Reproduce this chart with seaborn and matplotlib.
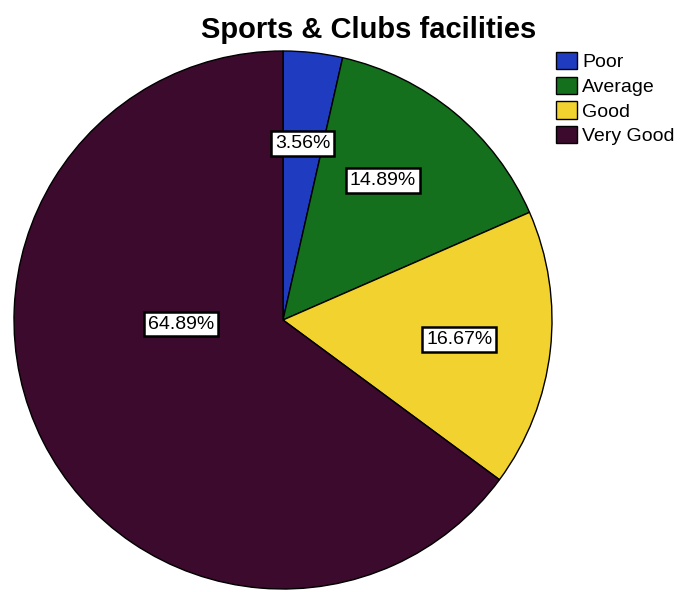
import matplotlib
matplotlib.use("Agg")
import matplotlib.pyplot as plt
import seaborn as sns
from matplotlib.patches import Patch

sns.set_theme(style="white")
plt.rcParams['font.family'] = ['Liberation Sans', 'DejaVu Sans']
plt.rcParams['text.color'] = 'black'

categories = ["Poor", "Average", "Good", "Very Good"]
values = [3.56, 14.89, 16.67, 64.89]
colors = ["#1f3cc0", "#14701c", "#f2d22e", "#3c0a2c"]

pct_labels = iter([f"{v:.2f}%" for v in values])

fig = plt.figure(figsize=(6.86, 5.92), dpi=100)
ax = fig.add_axes([14/686, 3/592, 538/686, 538/592])

wedges, texts, autotexts = ax.pie(
    values, colors=colors, startangle=90, counterclock=False,
    autopct=lambda p: next(pct_labels), pctdistance=0.66,
    wedgeprops=dict(edgecolor="black", linewidth=1.0),
    textprops=dict(fontsize=14, color="black"),
)
for t in autotexts:
    t.set_bbox(dict(boxstyle="square,pad=0.2", fc="white", ec="black", lw=1.8))
# large slice label sits left of center
autotexts[3].set_position((-0.38, -0.015))
autotexts[1].set_position((0.37, 0.52))
ax.set_xlim(-1.0, 1.0)
ax.set_ylim(-1.0, 1.0)
ax.set_aspect("equal")
ax.axis("off")

fig.text(369/686, 1 - 30/592, "Sports & Clubs facilities", ha="center", va="center",
         fontsize=21, fontweight="bold", color="black")

handles = [Patch(facecolor=c, edgecolor="black", linewidth=1.0) for c in colors]
fig.legend(handles, categories, loc="upper left", bbox_to_anchor=(556/686, 1 - 52/592),
           frameon=False, fontsize=14, handlelength=1.1, handleheight=1.0,
           handletextpad=0.25, labelspacing=0.27, borderaxespad=0, borderpad=0,
           labelcolor="black")

fig.savefig("out.png", dpi=100)
